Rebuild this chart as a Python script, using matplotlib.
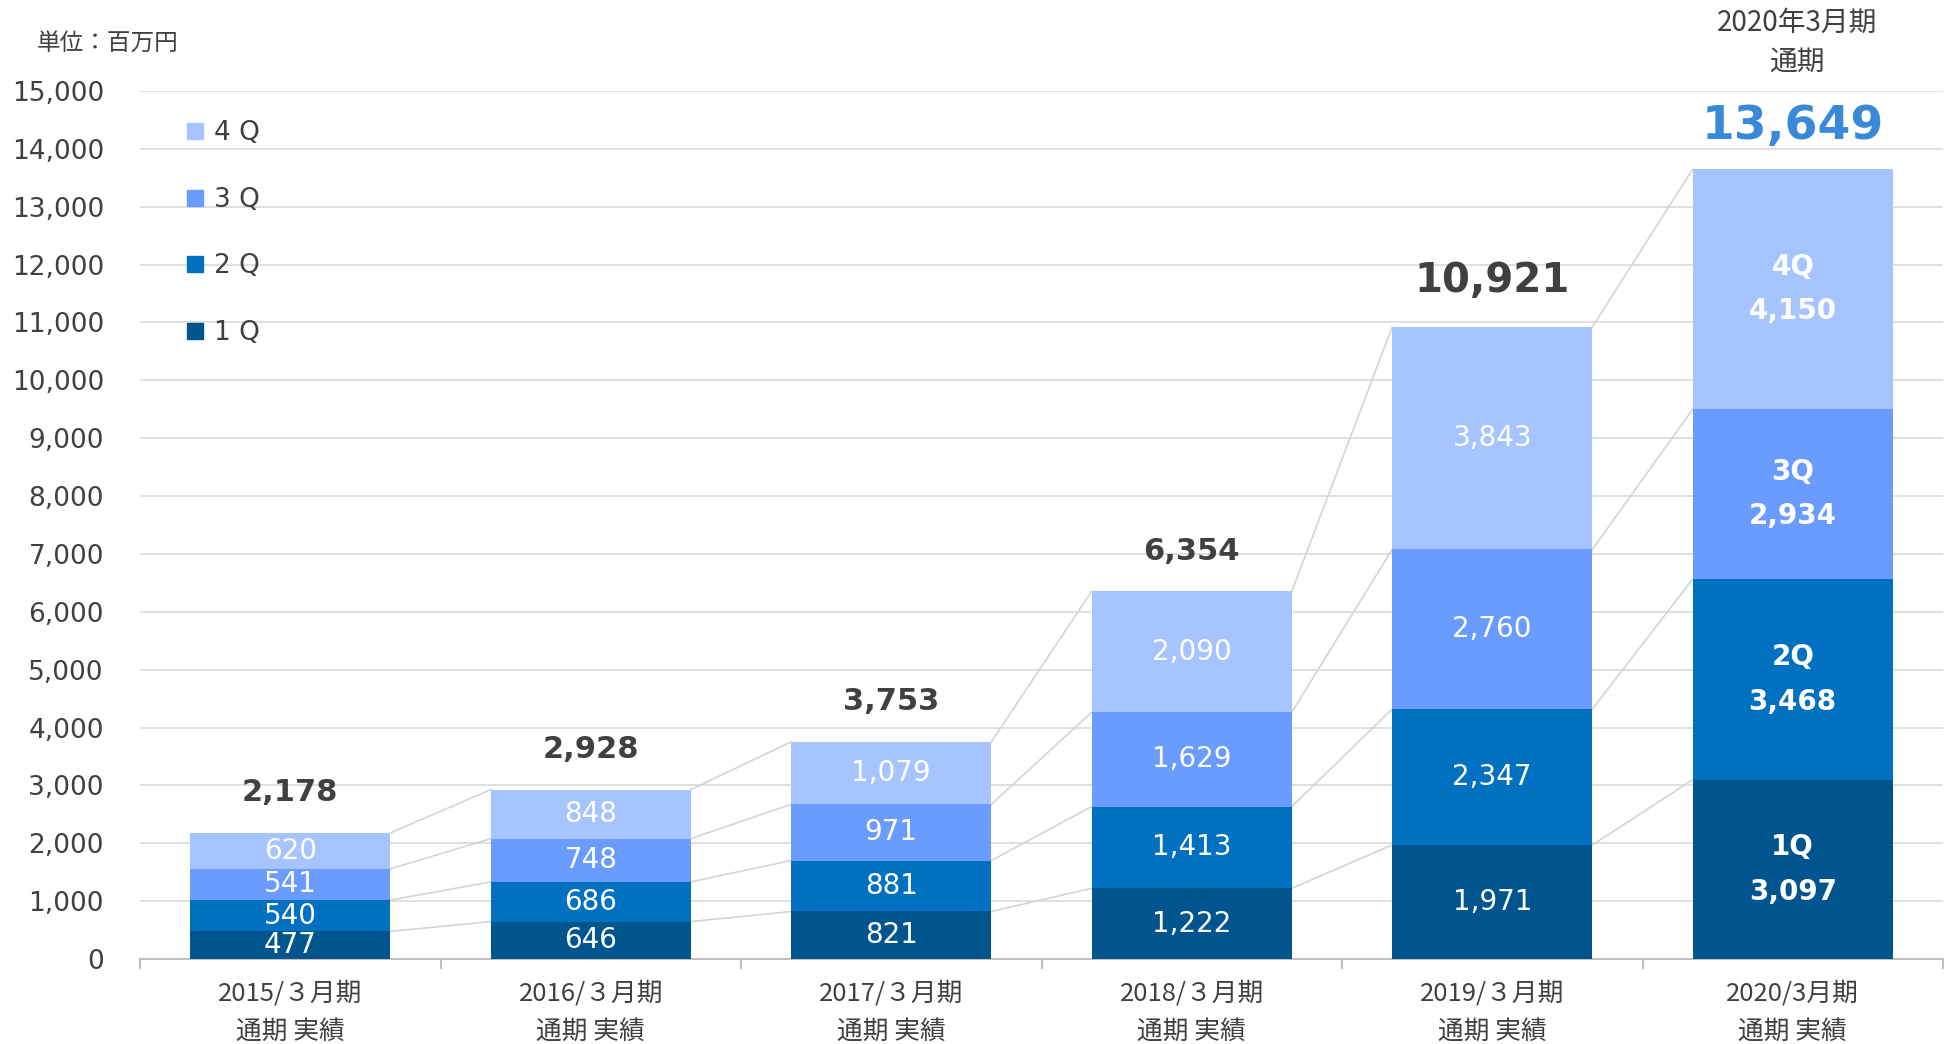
import matplotlib
matplotlib.use("Agg")
import matplotlib.pyplot as plt
from matplotlib.lines import Line2D
import numpy as np

plt.rcParams['font.family'] = ['DejaVu Sans', 'Noto Sans CJK JP']
CJK = ['Noto Sans CJK JP', 'DejaVu Sans']

# data
periods = ["2015/３月期", "2016/３月期", "2017/３月期", "2018/３月期", "2019/３月期", "2020/3月期"]
sublabel = "通期 実績"
q1 = [477, 646, 821, 1222, 1971, 3097]
q2 = [540, 686, 881, 1413, 2347, 3468]
q3 = [541, 748, 971, 1629, 2760, 2934]
q4 = [620, 848, 1079, 2090, 3843, 4150]
totals = [2178, 2928, 3753, 6354, 10921, 13649]
qnames = ["1Q", "2Q", "3Q", "4Q"]
legend_names = ["1 Q", "2 Q", "3 Q", "4 Q"]
colors = ["#00558F", "#0070C0", "#6A9BFF", "#A6C4FF"]

W, H = 1951, 1044
fig = plt.figure(figsize=(W / 100, H / 100), dpi=100)
ax = fig.add_axes([140 / W, 1 - 959 / H, 1803 / W, (959 - 91) / H])

x = np.arange(len(periods))
bw = 0.666
series = [q1, q2, q3, q4]
bottom = np.zeros(len(x))
cums = []
for k, vals in enumerate(series):
    vals = np.array(vals)
    ax.bar(x, vals, bw, bottom=bottom, color=colors[k], zorder=3, linewidth=0)
    for i in range(len(x)):
        mid = bottom[i] + vals[i] / 2
        if i == len(x) - 1:
            ax.annotate(qnames[k], (x[i], mid), xytext=(0, 16), textcoords='offset points',
                        ha='center', va='center', color='white', fontsize=20, fontweight='bold', zorder=5)
            ax.annotate(f"{vals[i]:,}", (x[i], mid), xytext=(0, -16), textcoords='offset points',
                        ha='center', va='center', color='white', fontsize=20, fontweight='bold', zorder=5)
        else:
            ax.text(x[i], mid, f"{vals[i]:,}", ha='center', va='center', color='white',
                    fontsize=20, zorder=5)
    bottom = bottom + vals
    cums.append(bottom.copy())

# series lines between bars
for c in cums:
    for i in range(len(x) - 1):
        ax.plot([x[i] + bw / 2, x[i + 1] - bw / 2], [c[i], c[i + 1]],
                color='#D4D4D4', lw=1.2, zorder=2)

# totals above bars
for i, t in enumerate(totals):
    if i == len(totals) - 1:
        fs, col, off = 34, '#3A89D8', 31
    elif i == len(totals) - 2:
        fs, col, off = 29, '#404040', 33
    else:
        fs, col, off = 22, '#404040', 29
    ax.annotate(f"{t:,}", (x[i], t), xytext=(0, off), textcoords='offset points',
                ha='center', va='center', fontsize=fs, fontweight='bold', color=col)

ax.set_xlim(-0.5, 5.5)
ax.set_ylim(0, 15000)
ax.set_yticks(np.arange(0, 15001, 1000))
ax.set_yticklabels([f"{v:,}" for v in range(0, 15001, 1000)])
ax.tick_params(axis='y', length=0, pad=26, labelsize=19, labelcolor='#404040')
ax.grid(axis='y', color='#D9D9D9', lw=1.2, zorder=0)
ax.set_axisbelow(True)
for s in ['top', 'right', 'left']:
    ax.spines[s].set_visible(False)
ax.spines['bottom'].set_color('#BFBFBF')
ax.spines['bottom'].set_linewidth(1.5)
ax.set_xticks(x)
ax.set_xticklabels([])
ax.tick_params(axis='x', which='major', length=0)
ax.set_xticks(np.arange(-0.5, 5.6, 1), minor=True)
ax.tick_params(axis='x', which='minor', length=7, color='#BFBFBF', width=1.5)

for i, p in enumerate(periods):
    ax.annotate(p, (x[i], 0), xycoords=('data', 'axes fraction'), xytext=(0, -25),
                textcoords='offset points', ha='center', va='center', fontsize=18.5,
                family=CJK, color='#404040')
    ax.annotate(sublabel, (x[i], 0), xycoords=('data', 'axes fraction'), xytext=(0, -52),
                textcoords='offset points', ha='center', va='center', fontsize=18.5,
                family=CJK, color='#404040')

# legend (4Q on top)
handles = [Line2D([], [], marker='s', ls='', color=colors[k], markersize=12) for k in range(4)][::-1]
leg = ax.legend(handles, legend_names[::-1], loc='upper left', bbox_to_anchor=(169 / W, 1 - 107 / H),
                bbox_transform=fig.transFigure, frameon=False, fontsize=19, labelspacing=1.54,
                handletextpad=0.2, handlelength=1.0, borderpad=0)
for t in leg.get_texts():
    t.set_color('#404040')

fig.text(37 / W, 1 - 43 / H, "単位：百万円", ha='left', va='center', fontsize=17,
         family=CJK, color='#404040')
fig.text(1797 / W, 1 - 23 / H, "2020年3月期", ha='center', va='center', fontsize=20,
         family=CJK, color='#404040')
fig.text(1797 / W, 1 - 62 / H, "通期", ha='center', va='center', fontsize=20,
         family=CJK, color='#404040')

fig.savefig("out.png", dpi=100)
